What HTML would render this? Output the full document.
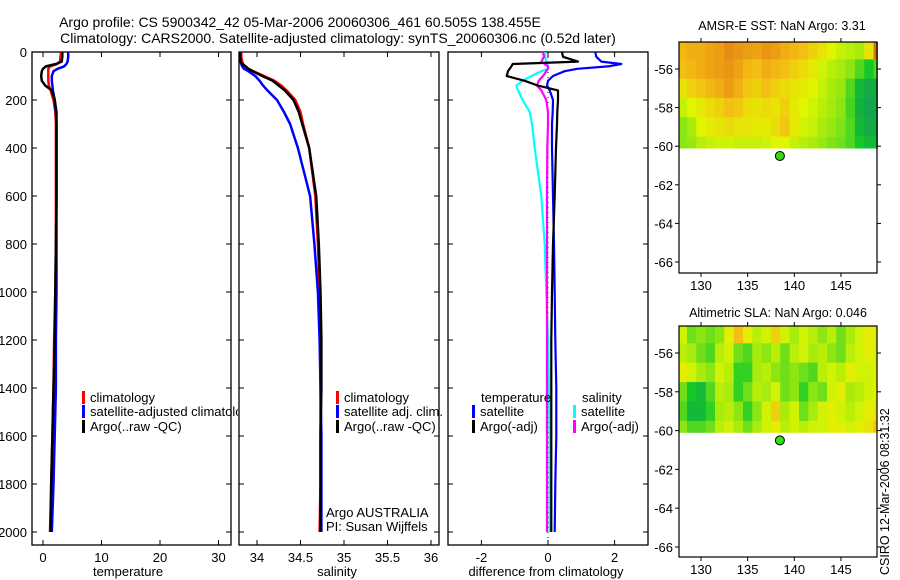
<!DOCTYPE html>
<html><head><meta charset="utf-8"><style>
html,body{margin:0;padding:0;background:#fff;}
svg{display:block;font-family:"Liberation Sans",sans-serif;}
</style></head><body>
<svg id="fig" width="900" height="580" viewBox="0 0 900 580">
<defs>
<clipPath id="cp1"><rect x="32" y="52" width="199" height="493"/></clipPath>
<clipPath id="cp2"><rect x="239" y="52" width="200" height="493"/></clipPath>
<clipPath id="cp3"><rect x="448" y="52" width="200" height="493"/></clipPath>
<clipPath id="cm1"><rect x="679" y="42" width="199" height="231"/></clipPath>
<clipPath id="cm2"><rect x="679" y="326" width="198" height="231"/></clipPath>
<clipPath id="cl1"><rect x="32" y="380" width="206" height="60"/></clipPath>
</defs>
<text x="300" y="27" font-size="14" text-anchor="middle">Argo profile: CS 5900342_42 05-Mar-2006 20060306_461 60.505S 138.455E</text>
<text x="338" y="43" font-size="14" text-anchor="middle">Climatology: CARS2000. Satellite-adjusted climatology: synTS_20060306.nc (0.52d later)</text>
<text x="782" y="30" font-size="12.5" text-anchor="middle">AMSR-E SST: NaN Argo: 3.31</text>
<text x="778" y="317" font-size="12.5" text-anchor="middle">Altimetric SLA: NaN Argo: 0.046</text>
<text transform="translate(889,575) rotate(-90)" font-size="12.5">CSIRO 12-Mar-2006 08:31:32</text>
<g id="g"></g>
</svg>
<script>
// ---- data ----
const depths      = [0, 20, 40, 50, 60, 70, 80, 100, 120, 140, 160, 200, 250, 300, 400, 600, 800, 1000, 1200, 1400, 1600, 1800, 2000];
const tempClim    = [3.1, 3.0, 2.9, 2.4, 1.2, 0.9, 0.9, 0.9, 0.9, 1.0, 1.3, 1.8, 2.1, 2.2, 2.2, 2.2, 2.2, 2.1, 1.9, 1.8, 1.6, 1.4, 1.2];
const tempSat     = [4.3, 4.3, 4.2, 4.0, 3.6, 2.5, 1.8, 1.5, 1.5, 1.6, 1.7, 2.0, 2.2, 2.3, 2.3, 2.3, 2.3, 2.3, 2.2, 2.2, 2.0, 1.8, 1.5];
const tempArgo    = [3.3, 3.3, 3.2, 2.2, 0.5, 0.0, -0.2, -0.3, -0.2, 0.4, 1.5, 2.0, 2.3, 2.3, 2.3, 2.3, 2.2, 2.1, 2.0, 1.8, 1.6, 1.4, 1.3];
const salClim     = [33.82, 33.82, 33.83, 33.84, 33.86, 33.9, 33.96, 34.08, 34.2, 34.28, 34.34, 34.44, 34.5, 34.53, 34.6, 34.67, 34.7, 34.72, 34.73, 34.73, 34.73, 34.73, 34.72];
const salSat      = [33.81, 33.81, 33.81, 33.82, 33.83, 33.85, 33.9, 33.98, 34.03, 34.07, 34.12, 34.23, 34.31, 34.38, 34.47, 34.61, 34.66, 34.7, 34.72, 34.73, 34.74, 34.74, 34.74];
const salArgo     = [33.8, 33.8, 33.81, 33.83, 33.87, 33.9, 33.95, 34.06, 34.18, 34.25, 34.32, 34.42, 34.48, 34.52, 34.6, 34.68, 34.71, 34.73, 34.74, 34.74, 34.73, 34.73, 34.73];
const diffTempSat = [1.42, 1.45, 1.6, 2.2, 1.8, 0.88, 0.5, 0.15, 0.0, -0.03, 0.05, 0.15, 0.14, 0.12, 0.12, 0.15, 0.18, 0.2, 0.22, 0.25, 0.25, 0.22, 0.2];
const diffTempArgo= [0.42, 0.45, 0.9, -1.06, -1.1, -1.15, -1.2, -1.24, -0.7, -0.3, 0.3, 0.3, 0.28, 0.27, 0.24, 0.2, 0.15, 0.12, 0.1, 0.1, 0.1, 0.1, 0.1];
const diffSalSat  = [-0.09, -0.08, -0.05, -0.02, 0.0, 0.0, -0.2, -0.5, -0.76, -0.95, -0.9, -0.76, -0.55, -0.48, -0.4, -0.2, -0.1, -0.05, 0.0, 0.03, 0.05, 0.05, 0.05];
const diffSalArgo = [-0.15, -0.12, -0.2, -0.1, 0.0, 0.0, -0.05, -0.15, -0.28, -0.33, -0.2, -0.05, 0.0, 0.0, -0.02, -0.03, -0.03, -0.03, -0.03, -0.03, -0.03, -0.03, -0.03];
const depthTicks  = [0, 200, 400, 600, 800, 1000, 1200, 1400, 1600, 1800, 2000];
const tempTicks   = [0, 10, 20, 30];
const salTicks    = [34, 34.5, 35, 35.5, 36];
const diffTicks   = [-2, 0, 2];
const lonTicks    = [130, 135, 140, 145];
const latTicks    = [-56, -58, -60, -62, -64, -66];
const gridLons    = [128,129,130,131,132,133,134,135,136,137,138,139,140,141,142,143,144,145,146,147,148,149];
const gridLats    = [-55, -56, -57, -58, -59, -60];
const sstGrid = [
[0.72,0.75,0.75,0.78,0.8,0.85,0.82,0.8,0.78,0.82,0.8,0.75,0.72,0.7,0.65,0.6,0.55,0.5,0.48,0.45,0.6,0.9],
[0.7,0.72,0.75,0.78,0.8,0.82,0.78,0.72,0.7,0.75,0.72,0.7,0.65,0.62,0.58,0.52,0.48,0.45,0.4,0.3,0.2,0.3],
[0.6,0.65,0.68,0.72,0.75,0.8,0.74,0.68,0.65,0.7,0.65,0.62,0.6,0.58,0.55,0.5,0.45,0.42,0.3,0.15,0.1,0.1],
[0.5,0.55,0.58,0.62,0.65,0.7,0.68,0.62,0.6,0.62,0.6,0.65,0.58,0.55,0.52,0.48,0.44,0.4,0.28,0.12,0.08,0.1],
[0.4,0.45,0.55,0.58,0.6,0.62,0.6,0.6,0.58,0.58,0.62,0.68,0.58,0.52,0.5,0.45,0.42,0.38,0.3,0.15,0.1,0.1],
[0.4,0.42,0.48,0.5,0.52,0.52,0.5,0.5,0.5,0.52,0.55,0.55,0.5,0.48,0.45,0.42,0.38,0.35,0.3,0.2,0.15,0.15]];
const slaGrid = [
[0.52,0.35,0.4,0.35,0.4,0.57,0.7,0.57,0.48,0.52,0.65,0.52,0.45,0.52,0.48,0.4,0.48,0.35,0.45,0.52,0.57,0.57],
[0.48,0.45,0.35,0.3,0.48,0.52,0.35,0.3,0.45,0.4,0.48,0.35,0.48,0.52,0.45,0.48,0.4,0.35,0.48,0.52,0.57,0.52],
[0.57,0.52,0.45,0.4,0.52,0.48,0.25,0.25,0.45,0.48,0.4,0.35,0.4,0.35,0.3,0.48,0.52,0.48,0.57,0.52,0.52,0.57],
[0.35,0.2,0.15,0.3,0.48,0.45,0.25,0.35,0.48,0.45,0.52,0.35,0.4,0.25,0.4,0.35,0.52,0.57,0.45,0.48,0.52,0.57],
[0.3,0.15,0.15,0.25,0.45,0.48,0.4,0.25,0.4,0.52,0.65,0.45,0.52,0.35,0.45,0.52,0.57,0.52,0.48,0.52,0.57,0.6],
[0.4,0.3,0.3,0.35,0.48,0.52,0.45,0.35,0.45,0.52,0.57,0.48,0.52,0.48,0.52,0.52,0.57,0.57,0.52,0.57,0.6,0.7]];
const argoLon = 138.455, argoLat = -60.505;

// ---- scales ----
const NS = "http://www.w3.org/2000/svg";
const G = document.getElementById('g');
const yDepth = d => 52 + d * 48 / 200;
const xTemp = t => 43 + t * 5.85;
const xSal = s => 257 + (s - 34) * 87;
const xDiff = v => 548 + v * 33.3;
const xLon = l => 701 + (l - 130) * 9.33;
const yLat1 = la => 69 + (-56 - la) * 19.3;
const yLat2 = la => 353 + (-56 - la) * 19.4;

function mk(tag, attrs, parent) {
  const e = document.createElementNS(NS, tag);
  for (const k in attrs) e.setAttribute(k, attrs[k]);
  (parent || G).appendChild(e);
  return e;
}
function txt(x, y, s, size, anchor, parent) {
  const t = mk('text', {x: x, y: y, 'font-size': size, 'text-anchor': anchor || 'start'}, parent);
  t.textContent = s;
  return t;
}
function colormap(v) {
  const stops = [[0, [20,140,100]], [0.2, [20,200,40]], [0.4, [140,230,20]], [0.55, [225,245,0]], [0.7, [245,190,20]], [0.85, [230,140,20]], [1, [180,70,10]]];
  for (let i = 1; i < stops.length; i++) {
    if (v <= stops[i][0]) {
      const a = stops[i-1], b = stops[i], f = (v - a[0]) / (b[0] - a[0]);
      const c = a[1].map((q, j) => Math.round(q + (b[1][j] - q) * f));
      return 'rgb(' + c.join(',') + ')';
    }
  }
  return 'rgb(180,70,10)';
}

function panel(x0, x1, name, showY) {
  const r = mk('rect', {x: x0, y: 52, width: x1 - x0, height: 493, fill: 'none', stroke: '#000', 'stroke-width': 1.3});
  
  
  depthTicks.forEach(d => {
    const y = yDepth(d);
    mk('line', {x1: x0, x2: x0 + 5, y1: y, y2: y, stroke: '#000'});
    mk('line', {x1: x1, x2: x1 - 5, y1: y, y2: y, stroke: '#000'});
    if (showY) {
      const t = txt(x0 - 5, y + 5, String(d), 13, 'end');
      
      
    }
  });
}
function xTicks(ticks, fx, name) {
  ticks.forEach(v => {
    const x = fx(v);
    mk('line', {x1: x, x2: x, y1: 545, y2: 540, stroke: '#000'});
    mk('line', {x1: x, x2: x, y1: 52, y2: 57, stroke: '#000'});
    const t = txt(x, 562, String(v), 13, 'middle');
    
    
  });
}
function series(vals, fx, color, name, clip, w) {
  const pts = vals.map((v, i) => fx(v).toFixed(1) + ',' + yDepth(depths[i]).toFixed(1)).join(' ');
  const p = mk('polyline', {points: pts, fill: 'none', stroke: color, 'stroke-width': w || 2.5, 'clip-path': 'url(#' + clip + ')', 'stroke-linejoin': 'round'});
  
  
}
function legendItem(x, y, color, label, name, parent) {
  const l = mk('rect', {x: x, y: y - 11, width: 3, height: 13, fill: color}, parent);
  
  
  const t = txt(x + 8, y, label, 13, 'start', parent);
  
  
}

// panel 1 temperature
panel(32, 231, 'temperature-panel', true);
xTicks(tempTicks, xTemp, 'temperature');
series(tempClim, xTemp, '#f00', 'temp-climatology-line', 'cp1');
series(tempSat, xTemp, '#00f', 'temp-satellite-line', 'cp1');
series(tempArgo, xTemp, '#000', 'temp-argo-line', 'cp1');
let t1 = txt(128, 576, 'temperature', 13, 'middle');


const lg1 = mk('g', {'clip-path': 'url(#cl1)'});


legendItem(82, 402, '#f00', 'climatology', 'legend-climatology', lg1);
legendItem(82, 416, '#00f', 'satellite-adjusted climatology', 'legend-satellite-adjusted', lg1);
legendItem(82, 431, '#000', 'Argo(..raw -QC)', 'legend-argo', lg1);

// panel 2 salinity
panel(239, 439, 'salinity-panel', false);
xTicks(salTicks, xSal, 'salinity');
series(salClim, xSal, '#f00', 'sal-climatology-line', 'cp2');
series(salSat, xSal, '#00f', 'sal-satellite-line', 'cp2');
series(salArgo, xSal, '#000', 'sal-argo-line', 'cp2');
let t2 = txt(337, 576, 'salinity', 13, 'middle');


legendItem(336, 402, '#f00', 'climatology', 'legend-sal-climatology');
legendItem(336, 416, '#00f', 'satellite adj. clim.', 'legend-sal-satellite');
legendItem(336, 431, '#000', 'Argo(..raw -QC)', 'legend-sal-argo');
let a1 = txt(326, 517, 'Argo AUSTRALIA', 13);


let a2 = txt(326, 531, 'PI: Susan Wijffels', 13);



// panel 3 differences
panel(448, 648, 'difference-panel', false);
xTicks(diffTicks, xDiff, 'difference');
const zl = mk('line', {x1: xDiff(0), x2: xDiff(0), y1: 52, y2: 545, stroke: '#000', 'stroke-width': 1, 'stroke-dasharray': '1,4'});


series(diffSalSat, xDiff, '#0ff', 'diff-sal-satellite-line', 'cp3', 2.2);
series(diffSalArgo, xDiff, '#f0f', 'diff-sal-argo-line', 'cp3', 2.2);
series(diffTempSat, xDiff, '#00f', 'diff-temp-satellite-line', 'cp3', 2.2);
series(diffTempArgo, xDiff, '#000', 'diff-temp-argo-line', 'cp3', 2.2);
let t3 = txt(546, 576, 'difference from climatology', 13, 'middle');


let h1 = txt(481, 402, 'temperature', 13);


let h2 = txt(582, 402, 'salinity', 13);


legendItem(472, 416, '#00f', 'satellite', 'legend-temp-satellite');
legendItem(472, 431, '#000', 'Argo(-adj)', 'legend-temp-argo');
legendItem(573, 416, '#0ff', 'satellite', 'legend-sal-diff-satellite');
legendItem(573, 431, '#f0f', 'Argo(-adj)', 'legend-sal-diff-argo');

// maps
function map(grid, top, bottom, yLat, clip, name) {
  const cg = mk('g', {'clip-path': 'url(#' + clip + ')'});
  
  
  grid.forEach((row, r) => {
    row.forEach((v, c) => {
      const lon = gridLons[c], lat = gridLats[r];
      const x0 = xLon(lon - 0.5), x1 = xLon(lon + 0.5);
      const y0 = yLat(Math.min(lat + 0.5, -54.4)), y1 = yLat(Math.max(lat - 0.5, -60.1));
      const cell = mk('rect', {x: x0.toFixed(1), y: y0.toFixed(1), width: (x1 - x0 + 0.6).toFixed(1), height: (y1 - y0 + 0.3).toFixed(1), fill: colormap(v)}, cg);
      
      
    });
  });
  const fr = mk('rect', {x: 679, y: top, width: 198, height: bottom - top, fill: 'none', stroke: '#000', 'stroke-width': 1.2});
  
  
  latTicks.forEach(la => {
    const y = yLat(la);
    mk('line', {x1: 679, x2: 675, y1: y, y2: y, stroke: '#000'});
    mk('line', {x1: 877, x2: 881, y1: y, y2: y, stroke: '#000'});
    const t = txt(673, y + 5, String(la), 13, 'end');
    
    
  });
  lonTicks.forEach(lo => {
    const x = xLon(lo);
    mk('line', {x1: x, x2: x, y1: bottom, y2: bottom + 4, stroke: '#000'});
    mk('line', {x1: x, x2: x, y1: top, y2: top - 4, stroke: '#000'});
    const t = txt(x, bottom + 17, String(lo), 13, 'middle');
    
    
  });
  const dot = mk('circle', {cx: xLon(argoLon), cy: yLat(argoLat), r: 4.5, fill: '#33dd11', stroke: '#000', 'stroke-width': 1});
  
  
}
map(sstGrid, 42, 273, yLat1, 'cm1', 'sst-map');
map(slaGrid, 326, 557, yLat2, 'cm2', 'sla-map');
</script>
</body></html>
